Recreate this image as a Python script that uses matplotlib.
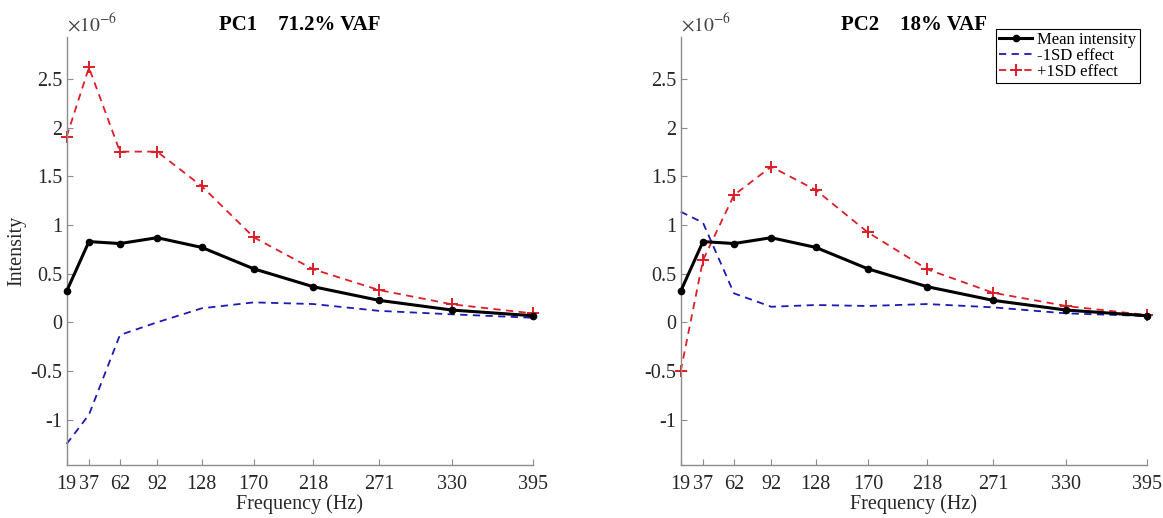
import numpy as np
from matplotlib import pyplot as plt
from matplotlib.ticker import FuncFormatter

plt.rcParams['font.family'] = ['Liberation Serif', 'DejaVu Serif']
plt.rcParams['mathtext.fontset'] = 'stix'

# Frequency bands (Hz) and intensities (in units of 1e-6)
freq = [19, 37, 62, 92, 128, 170, 218, 271, 330, 395]
mean_int = [0.32, 0.83, 0.81, 0.87, 0.77, 0.55, 0.366, 0.226, 0.126, 0.068]

pc1_minus = [-1.25, -0.95, -0.13, 0.0, 0.144, 0.205, 0.188, 0.118, 0.082, 0.047]
pc1_plus = [1.91, 2.62, 1.755, 1.755, 1.40, 0.874, 0.545, 0.332, 0.185, 0.092]

pc2_minus = [1.137, 1.024, 0.298, 0.16, 0.178, 0.168, 0.188, 0.154, 0.092, 0.065]
pc2_plus = [-0.50, 0.64, 1.308, 1.60, 1.36, 0.925, 0.545, 0.304, 0.168, 0.075]

titles = ['PC1    71.2% VAF', 'PC2    18% VAF']
scale = 1e-6
yticks = [-1, -0.5, 0, 0.5, 1, 1.5, 2, 2.5]

axis_grey = '#8c8c8c'
red = '#dc1e28'
blue = '#1a1ab4'

fig = plt.figure(figsize=(11.63, 5.18), dpi=100)
ax1 = fig.add_axes([0.0573, 0.1023, 0.4007, 0.826])
ax2 = fig.add_axes([0.5853, 0.1023, 0.4007, 0.826])

panels = [(ax1, pc1_minus, pc1_plus, titles[0]),
          (ax2, pc2_minus, pc2_plus, titles[1])]

for ax, minus, plus, title in panels:
    f = np.array(freq)
    ax.plot(f, np.array(mean_int) * scale, color='k', linewidth=2.2,
            marker='o', markersize=4.5, label='Mean intensity', zorder=3,
            clip_on=False)
    ax.plot(f, np.array(minus) * scale, color=blue, linestyle='--',
            linewidth=1.3, dashes=(4, 3), label='-1SD effect', clip_on=False)
    ax.plot(f, np.array(plus) * scale, color=red, linestyle='--',
            linewidth=1.3, dashes=(4, 3), marker='+', markersize=9,
            markeredgewidth=1.4, label='+1SD effect', clip_on=False)

    ax.set_xlim(19, 395)
    ax.set_ylim(-1.467 * scale, 2.932 * scale)
    ax.set_xticks(freq)
    ax.set_yticks(np.array(yticks) * scale)
    ax.yaxis.set_major_formatter(FuncFormatter(lambda v, p: '{:g}'.format(round(v / scale, 3))))

    for side in ['top', 'right']:
        ax.spines[side].set_visible(False)
    for side in ['left', 'bottom']:
        ax.spines[side].set_color(axis_grey)
        ax.spines[side].set_linewidth(1.0)
    ax.tick_params(direction='in', length=4, width=0.8, color=axis_grey,
                   labelsize=14.5, labelcolor='#262626')
    ax.tick_params(axis='x', pad=7.5)
    ax.tick_params(axis='y', pad=3)

    ax.text(0.0, 1.005, r'$\times10^{-6}$', transform=ax.transAxes,
            fontsize=14, color='#404040', ha='left', va='bottom')
    ax.set_title(title, fontsize=15, fontweight='bold', pad=5)
    ax.set_xlabel('Frequency (Hz)', fontsize=14.5, color='#262626', labelpad=0)

ax1.set_ylabel('Intensity', fontsize=14.5, color='#262626', labelpad=3)

leg = ax2.legend(loc='upper right', bbox_to_anchor=(0.985, 1.02), fontsize=12,
                 frameon=True, fancybox=False, edgecolor='k', framealpha=1,
                 handlelength=2.0, handletextpad=0.3, labelspacing=0.0,
                 borderpad=0.2, borderaxespad=0)
leg.get_frame().set_linewidth(0.8)

plt.savefig('out.png', dpi=100)
